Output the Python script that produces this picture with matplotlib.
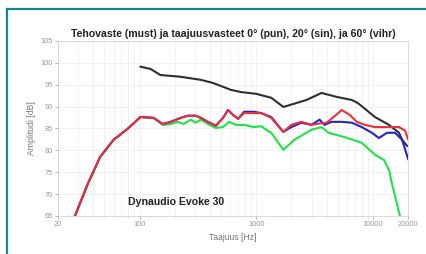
import matplotlib
matplotlib.use('Agg')
import matplotlib.pyplot as plt
from matplotlib.lines import Line2D
from matplotlib.ticker import FixedLocator, NullFormatter

plt.rcParams['font.family'] = ['Liberation Sans', 'DejaVu Sans']

# Taajuusvasteet (luettu kuvasta)
red_f = [28, 36, 46, 60, 79, 102, 132, 158, 185, 225, 259, 303, 335, 385, 451, 519,
         573, 632, 699, 787, 960, 1102, 1345, 1706, 2000, 2438, 2974, 3418, 4009,
         4604, 5396, 6325, 7265, 8518, 10390, 13720, 16710, 18840, 20000]
red_db = [65, 72.3, 78.5, 82.4, 84.9, 87.6, 87.4, 86.0, 86.5, 87.4, 87.9, 87.9, 87.4,
          86.5, 85.6, 87.4, 89.2, 88.1, 87.2, 88.5, 88.5, 88.5, 87.4, 84.2, 85.8, 86.5,
          85.8, 86.1, 86.3, 87.6, 89.2, 88.1, 86.5, 85.8, 85.3, 85.3, 85.3, 84.5, 82.5]

blue_f = [28, 36, 46, 60, 79, 102, 132, 158, 185, 225, 259, 303, 335, 385, 451, 519,
          573, 632, 699, 787, 960, 1102, 1345, 1706, 2000, 2438, 2974, 3486, 3848,
          4425, 5396, 6577, 8022, 9795, 11250, 13180, 15450, 17760, 20000]
blue_db = [65, 72.3, 78.5, 82.4, 84.9, 87.6, 87.4, 86.0, 86.5, 87.4, 87.9, 87.9, 87.4,
           86.5, 85.6, 87.4, 89.2, 88.1, 87.2, 88.8, 88.8, 88.5, 87.6, 84.2, 85.3, 86.3,
           85.8, 87.0, 85.8, 86.5, 86.5, 86.3, 85.3, 84.0, 82.8, 84.0, 84.0, 82.4, 78.0]

green_f = [28, 36, 46, 60, 79, 102, 132, 158, 185, 212, 239, 275, 303, 335, 385, 451,
           519, 584, 671, 787, 960, 1102, 1217, 1345, 1706, 2124, 2974, 3628, 4168,
           5730, 8022, 10390, 12420, 13720, 14560, 16080, 17060]
green_db = [65, 72.3, 78.5, 82.4, 84.9, 87.6, 87.4, 85.8, 86.0, 86.5, 86.0, 87.0, 86.3,
            87.0, 86.0, 85.1, 85.3, 86.5, 85.8, 85.8, 85.3, 85.5, 84.7, 84.0, 80.1, 82.4,
            84.7, 85.3, 84.0, 83.0, 81.7, 79.0, 77.8, 75.5, 72.3, 67.7, 64.8]

black_f = [102, 124, 151, 225, 335, 425, 608, 741, 998, 1345, 1706, 2208, 2692, 3628,
           4886, 6577, 7414, 8518, 10390, 13720, 16710, 17760, 19600]
black_db = [99.1, 98.6, 97.2, 96.8, 96.1, 95.4, 93.8, 93.3, 92.9, 92.0, 89.9, 90.8,
            91.5, 93.1, 92.2, 91.5, 90.8, 89.5, 87.6, 85.8, 84.0, 82.4, 81.0]

x_ticks = [20, 100, 1000, 10000, 20000]
y_ticks = [65, 70, 75, 80, 85, 90, 95, 100, 105]

fig = plt.figure(figsize=(4.26, 2.54), dpi=100)
ax = fig.add_axes([0.136, 0.15, 0.822, 0.689])

ax.plot(black_f, black_db, color='#2e2e2e', lw=1.5)
ax.plot(green_f, green_db, color='#22e04a', lw=1.5)
ax.plot(blue_f, blue_db, color='#2424c8', lw=1.5)
ax.plot(red_f, red_db, color='#e8303c', lw=1.5)

ax.set_xscale('log')
ax.set_xlim(20, 20000)
ax.set_ylim(65, 105)
ax.xaxis.set_major_locator(FixedLocator(x_ticks))
ax.set_xticklabels([str(t) for t in x_ticks])
ax.xaxis.set_minor_formatter(NullFormatter())
ax.set_yticks(y_ticks)

ax.grid(True, which='both', color='#efefef', lw=0.6)
ax.tick_params(labelsize=5.3, colors='#999999', length=2, width=0.5, pad=2)
ax.tick_params(which='minor', length=1.5, width=0.4, colors='#cccccc')
for s in ax.spines.values():
    s.set_color('#d4d4d4')
    s.set_linewidth(0.6)

ax.set_title('Tehovaste (must) ja taajuusvasteet 0° (pun), 20° (sin), ja 60° (vihr)',
             fontsize=7.6, fontweight='bold', color='#222222', pad=3)
ax.set_xlabel('Taajuus [Hz]', fontsize=6.2, color='#777777', labelpad=3)
ax.set_ylabel('Amplitudi [dB]', fontsize=6.2, color='#777777', labelpad=3)
ax.text(80, 67.5, 'Dynaudio Evoke 30', fontsize=7.6, fontweight='bold', color='#222222')

# turkoosi kehys (vain ylä- ja vasen reuna näkyy)
teal = '#17878c'
fig.add_artist(Line2D([0.017, 0.017], [0.0, 0.965], transform=fig.transFigure,
                      color=teal, lw=1.6))
fig.add_artist(Line2D([0.017, 1.0], [0.965, 0.965], transform=fig.transFigure,
                      color=teal, lw=1.6))

fig.savefig('out.png', dpi=100)
